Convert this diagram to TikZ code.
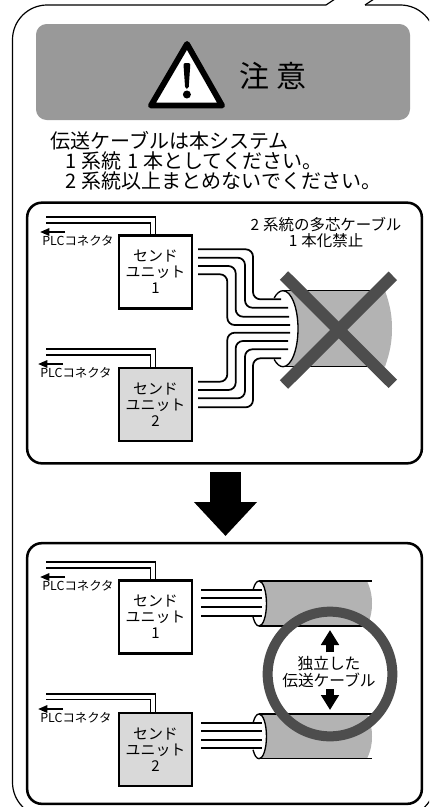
\documentclass[tikz,border=0pt]{standalone}
\usepackage{fontspec}
\setmainfont{Noto Sans CJK JP}
\usepackage{xcolor}
\usetikzlibrary{positioning,arrows.meta}

\definecolor{hdrgray}{HTML}{999999}
\definecolor{cablegray}{HTML}{B3B3B3}
\definecolor{markgray}{HTML}{4D4D4D}
\definecolor{unitgray}{HTML}{D9D9D9}

\tikzset{
    panel/.style={draw, line width=1.9pt, rounded corners=11pt, minimum width=296pt, minimum height=195.5pt, inner sep=0pt},
    unitbox/.style={draw, line width=1.9pt, minimum width=54.75pt, minimum height=54.5pt, inner sep=0pt, align=center, font=\fontsize{11.2}{12}\selectfont},
    wire/.style={line width=1.3pt},
    fanwire/.style={wire, rounded corners=5.5pt},
    plcwire/.style={line width=1pt},
    plcarrow/.style={line width=1.5pt, -{Triangle[length=7pt,width=5.5pt]}},
    plclabel/.style={inner sep=0pt, font=\fontsize{9.3}{10}\selectfont},
    capt/.style={inner sep=0pt, anchor=west, font=\fontsize{15}{16}\selectfont},
    cableline/.style={line width=1pt},
    crossbar/.style={draw=markgray, line width=9pt},
    blockarrow/.style={line width=5.7pt, -{Triangle[length=11.25pt,width=13pt]}}
}

\begin{document}
\begin{tikzpicture}[x=0.75pt, y=-0.75pt]
    \useasboundingbox (0,0) rectangle (429,807);
    \clip (0,0) rectangle (429,807);

    % outer frame, open at the top
    \draw[line width=0.9pt, rounded corners=26pt] (326,5) -- (12.5,5) -- (12.5,817) -- (435,817) -- (435,5) -- (365,5);
    \draw[line width=0.9pt] (326,5) -- (335,-1);
    \draw[line width=0.9pt] (365,5) -- (374,-1);

    % heading
    \node (hdr) [fill=hdrgray, rounded corners=8pt, minimum width=280.5pt, minimum height=72pt, inner sep=0pt] at (223,72) {};
    \draw[line width=4.4pt, line join=round, fill=white] (187,44) -- (222,105.5) -- (151,105.5) -- cycle;
    \fill[rounded corners=1.5pt] (183.4,63) -- (190.4,63) -- (188.6,89) -- (185.2,89) -- cycle;
    \fill (186.9,94.5) circle[radius=3pt];
    \node (warn) [inner sep=0pt, font=\fontsize{22.5}{24}\selectfont] at (273,76) {注\hspace{5pt}意};

    \node (line1) [capt] at (50,141) {伝送ケーブルは本システム};
    \node (line2) [capt] at (65,161) {1\hspace{4pt}系統\hspace{4pt}1\hspace{4pt}本としてください。};
    \node (line3) [capt] at (65,181) {2\hspace{4pt}系統以上まとめないでください。};

    % upper panel
    \node (top) [panel] at (224.5,333) {};
    \node (topnote) [inner sep=0pt, align=center, font=\fontsize{11.6}{12}\selectfont] at (326,232) {2\hspace{3pt}系統の多芯ケーブル\\1\hspace{3pt}本化禁止};

    \node (unita) [unitbox] at (155.5,272) {センド\\ユニット\\1};
    \node (unitb) [unitbox, fill=unitgray] at (155.5,404.5) {センド\\ユニット\\2};

    \coordinate (wa1) at (46,217);
    \coordinate (wa2) at (46,223);
    \coordinate (wb1) at (46,349);
    \coordinate (wb2) at (46,355);
    \draw[plcwire] (wa1) -| (unita.north);
    \draw[plcwire] (wa2) -| ([xshift=-4pt]unita.north);
    \draw[plcwire] (wb1) -| (unitb.north);
    \draw[plcwire] (wb2) -| ([xshift=-4pt]unitb.north);

    \node (plca) [plclabel] at (78,241) {PLCコネクタ};
    \node (plcb) [plclabel] at (76,373) {PLCコネクタ};
    \coordinate (aa) at (65,232);
    \coordinate (ab) at (63,364);
    \draw[plcarrow] (aa) -- (40,232);
    \draw[plcarrow] (ab) -- (38,364);

    % bundled cable
    \fill[cablegray] (283,290.7) -- (385,290.7) .. controls (390,305) and (392,315) .. (392,328.7) .. controls (392,342) and (390,352) .. (385,366.7) -- (283,366.7) -- cycle;
    \fill[white] (283,328.7) ellipse[x radius=11.25pt, y radius=28.5pt];
    \draw[cableline] (283,290.7) arc[start angle=90, end angle=-90, x radius=11.25pt, y radius=28.5pt];
    \draw[cableline] (283,290.7) arc[start angle=90, end angle=126, x radius=11.25pt, y radius=28.5pt];
    \draw[cableline] (283,366.7) arc[start angle=-90, end angle=-126, x radius=11.25pt, y radius=28.5pt];
    \draw[cableline] (283,290.7) -- (370,290.7);
    \draw[cableline] (283,366.7) -- (370,366.7);

    \coordinate (f1) at (198,249.3);
    \coordinate (f2) at (198,257.7);
    \coordinate (f3) at (198,266);
    \coordinate (f4) at (198,274.3);
    \coordinate (f5) at (198,381.7);
    \coordinate (f6) at (198,390);
    \coordinate (f7) at (198,398.3);
    \coordinate (f8) at (198,407.3);
    \draw[fanwire] (f1) -| (253,299.3) -- (281,299.3);
    \draw[fanwire] (f2) -| (245,307.7) -- (288,307.7);
    \draw[fanwire] (f3) -| (235.7,316.7) -- (289,316.7);
    \draw[fanwire] (f4) -| (227.3,325) -- (290,325);
    \draw[fanwire] (f5) -| (227.3,332.7) -- (290,332.7);
    \draw[fanwire] (f6) -| (235.7,341) -- (288,341);
    \draw[fanwire] (f7) -| (245,349.3) -- (288,349.3);
    \draw[fanwire] (f8) -| (253,358.3) -- (281,358.3);

    \draw[crossbar] (284,275.5) -- (392.8,383.8);
    \draw[crossbar] (284,384.5) -- (392.8,275.8);

    % big arrow
    \coordinate (down) at (225.5,472);
    \draw[line width=23pt, -{Triangle[length=25.5pt,width=45.75pt]}] (down) -- (225.5,536);

    % lower panel
    \node (bot) [panel] at (224.5,673.5) {};

    \node (unitc) [unitbox] at (155.5,617) {センド\\ユニット\\1};
    \node (unitd) [unitbox, fill=unitgray] at (155.5,749.5) {センド\\ユニット\\2};

    \coordinate (wc1) at (46,562);
    \coordinate (wc2) at (46,568);
    \coordinate (wd1) at (46,694);
    \coordinate (wd2) at (46,699.5);
    \draw[plcwire] (wc1) -| (unitc.north);
    \draw[plcwire] (wc2) -| ([xshift=-4pt]unitc.north);
    \draw[plcwire] (wd1) -| (unitd.north);
    \draw[plcwire] (wd2) -| ([xshift=-4pt]unitd.north);

    \node (plcc) [plclabel] at (78,586) {PLCコネクタ};
    \node (plcd) [plclabel] at (76,718) {PLCコネクタ};
    \coordinate (ac) at (65,577);
    \coordinate (ad) at (63,709);
    \draw[plcarrow] (ac) -- (40,577);
    \draw[plcarrow] (ad) -- (38,709);

    % separate cables
    \fill[cablegray] (259,581) -- (367,581) .. controls (371,590) and (372,596) .. (372,603.5) .. controls (372,611) and (371,617) .. (367,626) -- (259,626) -- cycle;
    \fill[white] (259,603.5) ellipse[x radius=5.6pt, y radius=16.9pt];
    \draw[cableline] (259,581) arc[start angle=90, end angle=-90, x radius=5.6pt, y radius=16.9pt];
    \draw[cableline] (259,581) arc[start angle=90, end angle=143, x radius=5.6pt, y radius=16.9pt];
    \draw[cableline] (259,626) arc[start angle=-90, end angle=-143, x radius=5.6pt, y radius=16.9pt];
    \draw[cableline] (259,581) -- (372,581);
    \draw[cableline] (259,626) -- (372,626);

    \fill[cablegray] (259,714) -- (367,714) .. controls (371,723) and (372,729) .. (372,736.4) .. controls (372,744) and (371,750) .. (367,758.7) -- (259,758.7) -- cycle;
    \fill[white] (259,736.4) ellipse[x radius=5.6pt, y radius=16.8pt];
    \draw[cableline] (259,714) arc[start angle=90, end angle=-90, x radius=5.6pt, y radius=16.8pt];
    \draw[cableline] (259,714) arc[start angle=90, end angle=143, x radius=5.6pt, y radius=16.8pt];
    \draw[cableline] (259,758.7) arc[start angle=-90, end angle=-143, x radius=5.6pt, y radius=16.8pt];
    \draw[cableline] (259,714) -- (372,714);
    \draw[cableline] (259,758.7) -- (372,758.7);

    \coordinate (c1) at (201,590);
    \coordinate (c2) at (201,598.3);
    \coordinate (c3) at (201,607);
    \coordinate (c4) at (201,615.7);
    \coordinate (d1) at (201,722.7);
    \coordinate (d2) at (201,731.3);
    \coordinate (d3) at (201,739.7);
    \coordinate (d4) at (201,748.3);
    \draw[wire] (c1) -- (262,590);
    \draw[wire] (c2) -- (262,598.3);
    \draw[wire] (c3) -- (262,607);
    \draw[wire] (c4) -- (262,615.7);
    \draw[wire] (d1) -- (262,722.7);
    \draw[wire] (d2) -- (262,731.3);
    \draw[wire] (d3) -- (262,739.7);
    \draw[wire] (d4) -- (262,748.3);

    % ring and its label
    \node (ring) [draw=markgray, line width=7.5pt, circle, minimum size=93.5pt, inner sep=0pt] at (330,674) {};
    \node (ringtext) [inner sep=0pt, align=center, font=\fontsize{11.8}{13}\selectfont] at (329,672) {独立した\\伝送ケーブル};
    \coordinate (upa) at (330,652.3);
    \coordinate (dna) at (330,689.3);
    \draw[blockarrow] (upa) -- (330,630);
    \draw[blockarrow] (dna) -- (330,710);
\end{tikzpicture}
\end{document}
